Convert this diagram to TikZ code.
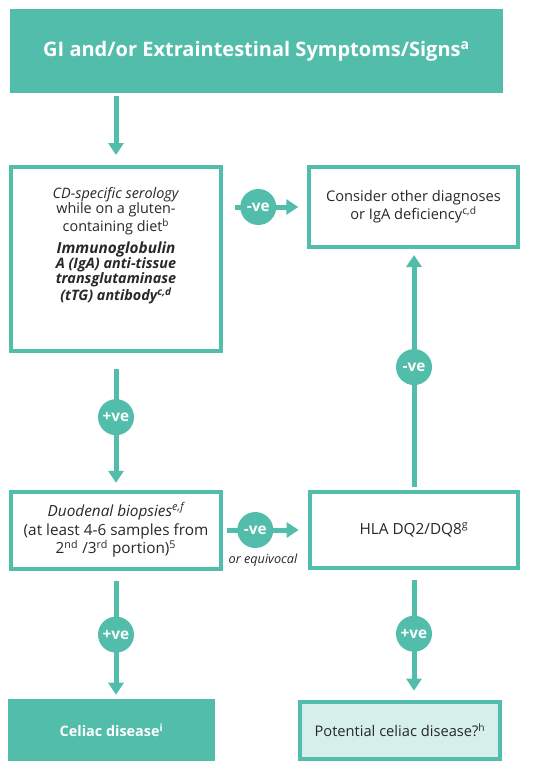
\documentclass[tikz,border=0pt]{standalone}
\usepackage{fontspec}
\setmainfont{Open Sans}
\usepackage{tikz}
\usetikzlibrary{arrows.meta}
\definecolor{jade}{RGB}{82,189,170}
\definecolor{mint}{RGB}{214,239,234}
\definecolor{ink}{RGB}{40,40,40}

\begin{document}
\begin{tikzpicture}[x=0.75pt,y=-0.75pt,
  box/.style={rectangle,draw=jade,line width=3pt,fill=white,align=center,text=ink,inner sep=0pt,font=\fontsize{11}{12}\selectfont},
  banner/.style={rectangle,fill=jade,text=white,align=center,inner sep=0pt,font=\bfseries\fontsize{10.8}{12}\selectfont},
  sign/.style={circle,fill=jade,text=white,inner sep=0pt,minimum size=27pt,font=\bfseries\fontsize{11.5}{12}\selectfont},
  flow/.style={draw=jade,line width=3.75pt,-{Triangle[width=11.25pt,length=9pt]}}
]
\useasboundingbox (0,0) rectangle (541,774);

% boxes
\node[banner,minimum width=369.75pt,minimum height=63pt,font=\bfseries\fontsize{15}{16}\selectfont] (symptoms) at (256.5,51) {GI and/or Extraintestinal Symptoms/Signs\textsuperscript{a}};
\node[box,minimum width=157.5pt,minimum height=138pt] (serology) at (116,259) {};
\node[align=center,text=ink,inner sep=0pt,font=\fontsize{10.8}{11.25}\selectfont] (serotext) at (116,246) {\textit{CD-specific serology}\\while on a gluten-\\containing diet\textsuperscript{b}\\[4pt]\bfseries\itshape\fontsize{11.5}{11}\selectfont Immunoglobulin\\\bfseries\itshape A (IgA) anti-tissue\\\bfseries\itshape transglutaminase\\\bfseries\itshape (tTG) antibody\textsuperscript{c,d}};
\node[box,minimum width=156.75pt,minimum height=60pt] (other) at (413.5,207) {Consider other diagnoses\\or IgA deficiency\textsuperscript{c,d}};
\node[box,minimum width=157.5pt,minimum height=57.75pt,font=\fontsize{11.5}{14}\selectfont] (biopsy) at (116,530) {\textit{Duodenal biopsies}\textsuperscript{\itshape e,f}\\(at least 4-6 samples from\\2\textsuperscript{nd} /3\textsuperscript{rd} portion)\textsuperscript{5}};
\node[box,minimum width=156pt,minimum height=57pt,font=\fontsize{11.5}{12}\selectfont] (hla) at (414,530) {HLA DQ2/DQ8\textsuperscript{g}};
\node[banner,minimum width=155.25pt,minimum height=46.5pt] (celiac) at (111.5,730) {Celiac disease\textsuperscript{i}};
\node[box,fill=mint,minimum width=150pt,minimum height=42.75pt] (potential) at (400,730.5) {Potential celiac disease?\textsuperscript{h}};

% connectors
\draw[flow,shorten <=2pt,shorten >=7.5pt] (serology.north |- symptoms.south) -- (serology.north);
\draw[flow,shorten <=9pt,shorten >=6.5pt] (serology.east |- other.west) -- node[sign,pos=0.42] (neg1) {-ve} (other.west);
\draw[flow,shorten <=12pt,shorten >=5pt] (serology.south) -- node[sign,pos=0.47] (pos1) {+ve} (biopsy.north);
\draw[flow,shorten <=8pt,shorten >=3pt] (biopsy.south) -- node[sign,pos=0.5] (pos2) {+ve} (biopsy.south |- celiac.north);
\draw[flow,shorten <=3pt,shorten >=7pt] (biopsy.east) -- node[sign,pos=0.38] (neg2) {-ve} (hla.west |- biopsy.east);
\draw[flow,shorten <=2pt,shorten >=4.5pt] (hla.north) -- node[sign,pos=0.51] (neg3) {-ve} (other.south -| hla.north);
\draw[flow,shorten <=7.5pt,shorten >=7pt] (hla.south) -- node[sign,pos=0.49] (pos3) {+ve} (hla.south |- potential.north);
\node[text=ink,inner sep=0pt,font=\itshape\fontsize{9.5}{10}\selectfont] (equivocal) at (263,560) {or equivocal};
\end{tikzpicture}
\end{document}
